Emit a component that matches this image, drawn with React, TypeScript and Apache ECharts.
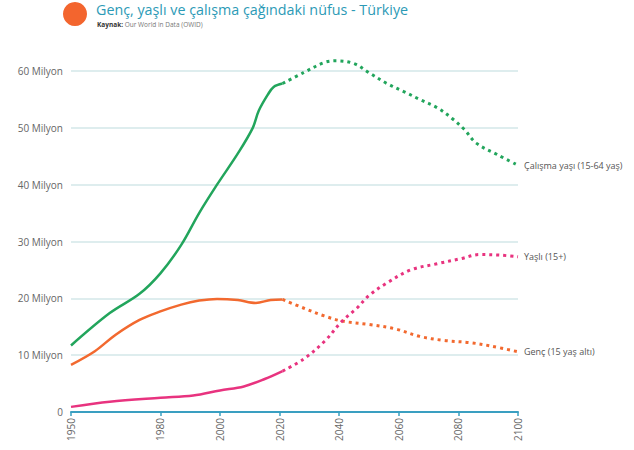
import React, { useEffect, useRef } from "react";
import * as echarts from "echarts";

const TITLE = "Genç, yaşlı ve çalışma çağındaki nüfus - Türkiye";
const SOURCE_LABEL = "Kaynak:";
const SOURCE = " Our World in Data (OWID)";

const xTickYears = [1950, 1980, 2000, 2020, 2040, 2060, 2080, 2100];

// Çalışma yaşı (15-64 yaş)
const workHistYears = [1950, 1963, 1973, 1980, 1987, 1993, 1999, 2006, 2011, 2013, 2016, 2018, 2021];
const workHistVals = [11.7, 17.4, 20.8, 24.4, 29.4, 35.0, 40.0, 45.5, 50.0, 53.0, 55.8, 57.2, 57.8];
const workProjYears = [2021, 2028, 2035, 2039, 2045, 2050, 2056, 2062, 2067, 2073, 2078, 2082, 2086, 2093, 2100];
const workProjVals = [57.8, 59.7, 61.5, 61.8, 61.3, 59.7, 57.8, 56.3, 55.0, 53.5, 51.6, 49.7, 47.3, 45.3, 43.4];

// Genç (15 yaş altı)
const youngHistYears = [1950, 1958, 1965, 1973, 1980, 1987, 1993, 1999, 2006, 2012, 2017, 2021];
const youngHistVals = [8.3, 10.7, 13.6, 16.2, 17.7, 18.9, 19.6, 19.9, 19.7, 19.2, 19.7, 19.8];
const youngProjYears = [2021, 2028, 2035, 2041, 2050, 2059, 2067, 2075, 2084, 2091, 2100];
const youngProjVals = [19.8, 18.3, 16.9, 16.0, 15.4, 14.6, 13.3, 12.6, 12.2, 11.6, 10.6];

// Yaşlı (15+)
const oldHistYears = [1950, 1963, 1980, 1991, 2000, 2008, 2015, 2021];
const oldHistVals = [0.9, 1.8, 2.5, 2.9, 3.8, 4.5, 5.8, 7.2];
const oldProjYears = [2021, 2028, 2035, 2041, 2046, 2050, 2056, 2064, 2073, 2081, 2087, 2094, 2100];
const oldProjVals = [7.2, 9.3, 12.4, 16.0, 18.3, 20.5, 22.7, 25.0, 26.1, 27.0, 27.7, 27.6, 27.3];

const seriesNames = ["Çalışma yaşı (15-64 yaş)", "Yaşlı (15+)", "Genç (15 yaş altı)"];

const GREEN = "#22a55c";
const ORANGE = "#f2692f";
const PINK = "#e8337f";
const FONT = "Open Sans";

const pairs = (xs: number[], ys: number[]) => xs.map((x, i) => [x, ys[i]]);

export default function App() {
  const ref = useRef<HTMLDivElement>(null);
  useEffect(() => {
    if (!ref.current) return;
    const chart = echarts.init(ref.current, null, { renderer: "svg" });
    const solid = (name: string, color: string, data: number[][]) => ({
      type: "line",
      name,
      data,
      smooth: 0.35,
      symbol: "none",
      clip: false,
      lineStyle: { color, width: 2.5 },
      z: 3,
    });
    const dotted = (name: string, color: string, data: number[][]) => ({
      type: "line",
      name,
      data,
      smooth: 0.35,
      symbol: "none",
      clip: false,
      lineStyle: { color, width: 3, type: [3, 4] },
      z: 3,
      endLabel: {
        show: true,
        formatter: name,
        color: "#555",
        fontFamily: FONT,
        fontSize: 9,
        distance: 6,
      },
    });
    chart.setOption({
      animation: false,
      backgroundColor: "#fff",
      textStyle: { fontFamily: FONT },
      graphic: [
        {
          type: "circle",
          shape: { cx: 75, cy: 14, r: 12 },
          style: { fill: "#f3652e" },
        },
        {
          type: "text",
          left: 96,
          top: 2,
          style: { text: TITLE, fill: "#2c9ab6", font: `14.3px "${FONT}"` },
        },
        {
          type: "text",
          left: 97,
          top: 21,
          style: {
            text: `{b|${SOURCE_LABEL}}{n|${SOURCE}}`,
            rich: {
              b: { fontSize: 6.5, fontWeight: "bold", fill: "#333", fontFamily: FONT },
              n: { fontSize: 6.5, fill: "#777", fontFamily: FONT },
            },
          },
        },
      ],
      grid: { left: 71, right: 116, top: 71, bottom: 38, containLabel: false },
      xAxis: {
        type: "value",
        min: 1950,
        max: 2100,
        axisLine: { show: true, lineStyle: { color: "#3a9fc1", width: 2 } },
        axisTick: { show: true, customValues: xTickYears, length: 4, lineStyle: { color: "#3a9fc1", width: 1.5 } },
        axisLabel: {
          customValues: xTickYears,
          rotate: 90,
          color: "#666",
          fontSize: 10,
          margin: 6,
          fontFamily: FONT,
          formatter: (v: number) => String(v),
        },
        splitLine: { show: false },
      },
      yAxis: {
        type: "value",
        min: 0,
        max: 60,
        interval: 10,
        axisLine: { show: false },
        axisTick: { show: false },
        axisLabel: {
          color: "#666",
          fontSize: 10,
          margin: 8,
          fontFamily: FONT,
          formatter: (v: number) => (v === 0 ? "0" : `${v} Milyon`),
        },
        splitLine: { lineStyle: { color: "#d3e7e9", width: 1.5 } },
      },
      series: [
        solid(seriesNames[0], GREEN, pairs(workHistYears, workHistVals)),
        dotted(seriesNames[0], GREEN, pairs(workProjYears, workProjVals)),
        solid(seriesNames[2], ORANGE, pairs(youngHistYears, youngHistVals)),
        dotted(seriesNames[2], ORANGE, pairs(youngProjYears, youngProjVals)),
        solid(seriesNames[1], PINK, pairs(oldHistYears, oldHistVals)),
        dotted(seriesNames[1], PINK, pairs(oldProjYears, oldProjVals)),
      ],
    });
    return () => chart.dispose();
  }, []);
  return <div ref={ref} style={{ width: 634, height: 450, position: "absolute", left: 0, top: 0 }} />;
}
